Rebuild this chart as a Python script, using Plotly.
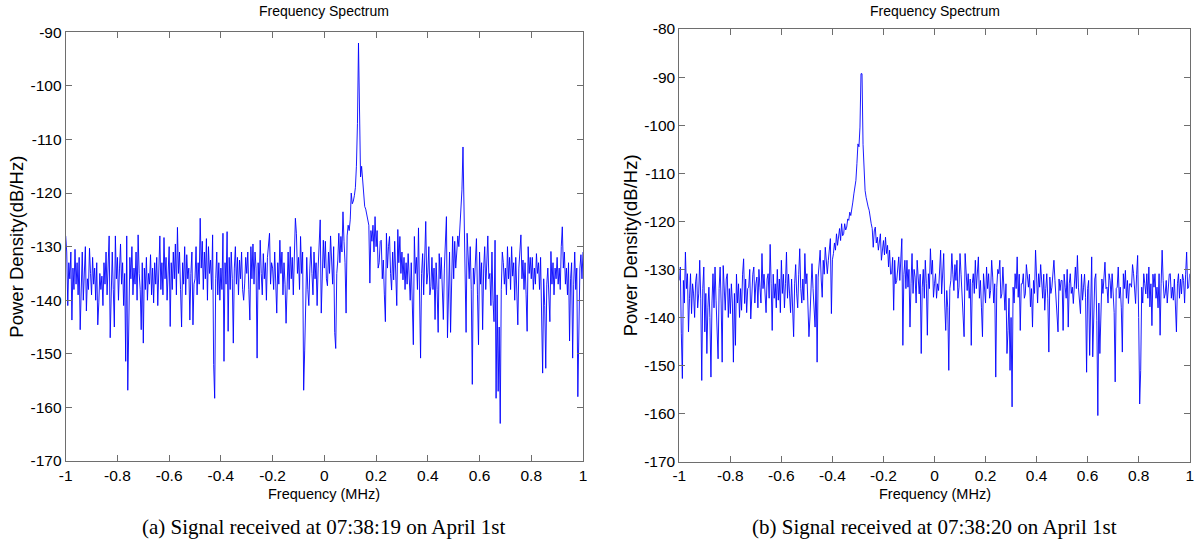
import numpy as np
import plotly.graph_objects as go

# Frequency grid (MHz) shared by both spectra
freq = np.linspace(-1.0, 1.0, 501)

# Panel (a): power density (dB/Hz), 07:38:19
psd_a = [
    -128, -131, -141, -133, -136, -131, -143.7, -134, -138, -130.5, -137, -133, -139, -132, -145.5, -135, -131, -140, -134, -130, -142, -136, -138, -130.3, -135,
    -139, -132, -137, -134, -140, -133, -144.6, -140.5, -135, -138, -135.5, -141, -133, -137, -131, -139, -134, -128, -147, -136, -131, -138, -145, -128, -136,
    -132, -140, -134, -129.5, -137, -133, -141, -135, -151.4, -128, -156.8, -138, -132, -136, -130, -139, -134, -137, -131, -140, -127.8, -135, -138, -145.5, -133,
    -148, -134, -138, -132, -140, -135, -137, -131.5, -139, -134, -140.5, -133, -137, -132, -141, -135, -128, -138, -133, -139, -128.3, -136, -132, -140, -134,
    -130, -144.9, -133, -138, -131, -136, -129.5, -139, -126.4, -135, -131, -138, -145, -133, -137, -130, -139, -131.5, -136, -134, -143.7, -135, -131, -144.6, -137,
    -136, -130, -139, -133, -137, -124.7, -134, -129, -138, -131, -136, -128.5, -140, -130, -135, -132.5, -138, -127.8, -152, -158.3, -136, -131, -139, -133, -140,
    -134, -138, -127.5, -151.4, -133, -137, -127.2, -145.8, -132, -138, -131, -136, -148, -134, -130, -137, -132, -139, -132.5, -136, -131, -138, -140, -136.8, -132,
    -135, -131, -138, -143.7, -130, -136, -129.5, -137, -131, -134, -150.8, -133, -138, -128.8, -135, -139, -131.3, -136, -133, -140, -132, -128.8, -127.5, -137, -133,
    -134, -138, -131, -136, -142.4, -133, -137, -128.8, -135, -131, -139, -133, -137, -144.3, -134, -131, -138, -130, -136, -132, -139, -130, -124.7, -127.5, -135,
    -132, -138, -128.1, -135, -131, -156.8, -149.3, -136, -132, -138, -141, -134, -130, -135, -139, -131, -136, -133, -141, -134, -130, -125, -142.4, -133, -128.8,
    -134, -129, -136, -137.3, -131, -135, -128, -133, -137, -130, -146, -149, -135, -132.5, -127.5, -133, -128.1, -131, -123.5, -129, -133, -142.4, -128, -126, -127,
    -125, -120, -122, -121.5, -120.5, -119, -115, -107, -92, -105, -117, -115, -118, -120, -122.5, -123, -124, -125.6, -126, -136.8, -127, -129, -126, -131, -124.4,
    -130, -127, -134, -133, -129, -128.8, -136, -132.5, -139, -144, -127.5, -134, -130, -128.1, -135, -138.1, -131, -136.2, -129, -134, -141, -126.8, -133, -128.1, -135,
    -131, -136.2, -132, -138, -133, -137, -131.3, -136.2, -140, -133, -139, -148.3, -128.1, -135, -132, -138, -126.5, -136, -150.8, -135, -131.3, -139, -133, -125.3, -137,
    -134.9, -130, -139, -137.4, -132, -138, -134, -143.6, -133, -138, -146, -131.3, -136, -132, -139, -143.6, -134, -130, -124.4, -147, -135, -131, -146, -134, -128.1,
    -136, -129, -134, -131, -128, -130, -126, -124, -119.4, -111.4, -121, -132.5, -146, -127.5, -131, -136, -130, -138, -155.7, -134, -137, -133, -128.5, -139, -148.3,
    -131, -137, -133, -145.5, -134, -130, -138, -132, -128, -136, -135, -141, -131, -140, -144, -128.8, -158.3, -139, -157, -145, -163, -138, -131, -133, -137,
    -134, -139, -130, -136, -132, -138, -130, -135.5, -133, -140, -132, -137, -144.6, -134, -131, -127.8, -136, -132.5, -138, -133, -139, -145.8, -130, -135, -132,
    -136, -132, -138, -134, -137, -131.3, -135, -133, -138, -132, -140, -153.6, -136, -141, -152.7, -137, -134, -139, -144, -130.9, -137, -133, -139, -134, -136,
    -132, -137, -134, -138, -130, -126.3, -134, -131, -137, -134, -139, -133, -147.6, -136, -133, -150.8, -137, -131, -138, -134, -158, -140, -134, -131.5, -136,
    -131,
]

# Panel (b): power density (dB/Hz), 07:38:20
psd_b = [
    -132.3, -129.5, -143.4, -152.7, -132.3, -137, -126.4, -134, -130.9, -143, -136, -130.9, -139.2, -133, -135.1, -140, -132.6, -130.9, -138, -135.1, -128.1, -136, -153.1, -134, -129.5,
    -143, -135, -147.5, -138, -133.7, -140, -152.4, -137, -130.9, -138, -129.5, -136.4, -141, -148.6, -134, -129.5, -137, -149.3, -129.2, -136, -138.5, -132, -130.9, -140, -134,
    -139.2, -133, -137, -149.3, -135, -145.8, -131, -137, -133, -140, -134, -138.5, -131, -127.8, -137.1, -132, -139, -134, -133.7, -130, -140.3, -135, -131, -129.5, -137,
    -133, -131.6, -138, -130, -133.7, -137, -126.7, -134, -131, -135.8, -139, -132, -130.9, -136, -124.8, -133, -142.7, -131, -136, -133, -138, -130, -136.4, -132, -139,
    -128.1, -135, -131, -138, -133, -126.4, -136, -131, -135.1, -139, -132, -137, -144, -133, -129, -135.1, -138, -131, -125.7, -134, -137, -132, -136.4, -126.7, -133,
    -130.9, -136, -144, -139.9, -133, -128.8, -134, -137.1, -142, -131, -149.3, -131.6, -129, -126, -132, -135.8, -128.1, -131, -125.4, -129, -130.9, -128.1, -126, -123.6, -139.2,
    -128, -126.7, -124.5, -126, -122.6, -125, -123.3, -121.5, -124, -120.5, -123, -122.6, -120.5, -121.8, -121.2, -119.5, -119.8, -118.1, -118.8, -117.7, -116, -114.3, -113, -111.5, -108,
    -103.9, -104.5, -100.4, -89.3, -89.3, -104, -110.1, -113.6, -115, -116.3, -117, -117.7, -119.8, -120.5, -121.5, -125.4, -122, -121.2, -124.5, -123.3, -126, -124, -122.6, -128.1, -125,
    -124, -127, -123.3, -126.7, -125, -129.5, -126, -131, -130.9, -127.5, -138.5, -128.1, -133, -132.3, -128.5, -127.4, -132.3, -129, -123.6, -145.8, -131, -128.1, -134, -128.1, -133.7,
    -130, -142, -133, -126.7, -135, -130, -131.6, -137, -128.1, -132, -135.1, -131, -147.5, -133.7, -130, -136, -128.1, -133, -143.7, -130.9, -134, -125.7, -131, -128.1, -135.8,
    -133, -130.9, -136, -133, -134.4, -129, -126, -135.1, -131, -126.7, -137, -142.7, -134.4, -138, -151, -134, -132.3, -126.7, -131, -134.4, -129, -132.3, -128.1, -136, -133.7,
    -126.7, -131, -135.1, -138, -144, -126.7, -131, -134.4, -130.9, -136, -132, -145.8, -133, -130.9, -135, -128.1, -134, -131, -127.4, -136, -132.3, -138, -144, -130.9, -133.7,
    -137, -129.5, -134, -130.9, -136, -134.4, -128.1, -131.6, -137, -133, -152.4, -133.7, -130, -130.9, -128.1, -136, -135.1, -129.5, -134, -138.5, -133, -147.5, -142.7, -136, -151,
    -140, -158.6, -133.7, -137, -130.9, -134, -127.4, -135.8, -131, -142.7, -133, -133, -130.9, -136, -135.1, -129, -130.9, -133.7, -131, -137.8, -134, -142, -132.3, -135, -126,
    -133, -137, -130.9, -133.7, -129, -132.3, -136, -131, -138.5, -134, -130.9, -136, -147.2, -131.6, -135, -133.7, -130, -128.1, -132.3, -136, -139, -143, -132, -134.4, -132.3,
    -132.3, -142.7, -131, -133.7, -136, -130, -142, -133, -130.9, -135, -133.7, -137.1, -132, -129.5, -134, -127.1, -133.7, -137, -139.2, -131, -136.4, -133.7, -131, -135.8, -151.4,
    -134, -132.3, -147.9, -136, -127.4, -148.2, -136.4, -132, -130.9, -140.6, -160.4, -137, -147.5, -137.1, -132, -135, -130.9, -128.5, -134, -133.7, -137, -130.9, -132.3, -136, -130.9,
    -135.1, -139, -153.4, -134, -133.7, -129.5, -136, -133.7, -138, -147.2, -130.9, -134, -130.2, -136, -132.3, -137.1, -133, -133, -133.7, -129, -130.9, -135, -137.1, -131, -127.1,
    -140, -158, -151, -133.7, -137, -130.9, -133, -135.1, -130.9, -136, -129.5, -137.8, -133, -141.7, -131, -133.7, -130.9, -136, -133.7, -138, -130.9, -143.7, -133, -126, -132.3,
    -136, -135.1, -132.3, -137, -133.7, -131, -130.9, -136, -133.7, -136.4, -132, -138, -143, -133, -130.9, -136, -132, -135.1, -131, -132.3, -137, -131, -126.4, -134, -133.7,
    -130.9,
]

# Tick labels
x_ticks = [-1, -0.8, -0.6, -0.4, -0.2, 0, 0.2, 0.4, 0.6, 0.8, 1]
x_tick_text = ["-1", "-0.8", "-0.6", "-0.4", "-0.2", "0", "0.2", "0.4", "0.6", "0.8", "1"]
y_ticks_a = [-170, -160, -150, -140, -130, -120, -110, -100, -90]
y_ticks_b = [-170, -160, -150, -140, -130, -120, -110, -100, -90, -80]

title_text = "Frequency Spectrum"
x_title = "Frequency (MHz)"
y_title = "Power Density(dB/Hz)"
captions = ["(a) Signal received at 07:38:19 on April 1st",
            "(b) Signal received at 07:38:20 on April 1st"]

W, H = 1200, 548
# plot-area pixel boxes (left, right, top, bottom)
box_a = (65.7, 583.0, 32.3, 461.0)
box_b = (679.3, 1189.7, 29.0, 461.7)

def dom_x(b):
    return [b[0] / W, b[1] / W]

def dom_y(b):
    return [(H - b[3]) / H, (H - b[2]) / H]

fig = go.Figure()
fig.add_trace(go.Scatter(x=freq, y=psd_a[:len(freq)], mode="lines",
                         line=dict(color="#0000ff", width=0.9),
                         xaxis="x", yaxis="y", showlegend=False, hoverinfo="skip"))
fig.add_trace(go.Scatter(x=freq, y=psd_b[:len(freq)], mode="lines",
                         line=dict(color="#0000ff", width=0.9),
                         xaxis="x2", yaxis="y2", showlegend=False, hoverinfo="skip"))

tick_font = dict(family="Liberation Sans, Arial, sans-serif", size=15.5, color="#000000")
axis_common = dict(showline=True, linecolor="#6e6e6e", linewidth=1, mirror="ticks",
                   ticks="inside", ticklen=6, tickcolor="#6e6e6e", tickwidth=1,
                   showgrid=False, zeroline=False, tickfont=tick_font, automargin=False)

fig.update_layout(
    template="none",
    width=W, height=H, autosize=False,
    margin=dict(l=0, r=0, t=0, b=0, pad=0),
    paper_bgcolor="white", plot_bgcolor="white",
    xaxis=dict(domain=dom_x(box_a), range=[-1, 1], tickvals=x_ticks, ticktext=x_tick_text,
               anchor="y", **axis_common),
    yaxis=dict(domain=dom_y(box_a), range=[-170, -90], tickvals=y_ticks_a,
               ticktext=[str(v) for v in y_ticks_a], anchor="x", **axis_common),
    xaxis2=dict(domain=dom_x(box_b), range=[-1, 1], tickvals=x_ticks, ticktext=x_tick_text,
                anchor="y2", **axis_common),
    yaxis2=dict(domain=dom_y(box_b), range=[-170, -80], tickvals=y_ticks_b,
                ticktext=[str(v) for v in y_ticks_b], anchor="x2", **axis_common),
)

title_font = dict(family="Liberation Sans, Arial, sans-serif", size=14, color="#000000")
xlab_font = dict(family="Liberation Sans, Arial, sans-serif", size=14.5, color="#000000")
ylab_font = dict(family="Liberation Sans, Arial, sans-serif", size=18.5, color="#000000")
cap_font = dict(family="Liberation Serif, Times New Roman, serif", size=21, color="#000000")

annotations = []
for box, cap, ytx in ((box_a, captions[0], 17), (box_b, captions[1], 630)):
    cx = (box[0] + box[1]) / 2 / W
    annotations.append(dict(text=title_text, x=cx, y=(H - 11) / H, xref="paper", yref="paper",
                            showarrow=False, font=title_font, xanchor="center", yanchor="middle"))
    annotations.append(dict(text=x_title, x=cx, y=(H - 494) / H, xref="paper", yref="paper",
                            showarrow=False, font=xlab_font, xanchor="center", yanchor="middle"))
    annotations.append(dict(text=y_title, x=ytx / W, y=(H - (box[2] + box[3]) / 2) / H,
                            xref="paper", yref="paper", textangle=-90,
                            showarrow=False, font=ylab_font, xanchor="center", yanchor="middle"))
    annotations.append(dict(text=cap, x=cx, y=(H - 527) / H, xref="paper", yref="paper",
                            showarrow=False, font=cap_font, xanchor="center", yanchor="middle"))
fig.update_layout(annotations=annotations)

fig.write_html("out.html", config={"displayModeBar": False},
               post_script="document.body.style.margin='0';")
